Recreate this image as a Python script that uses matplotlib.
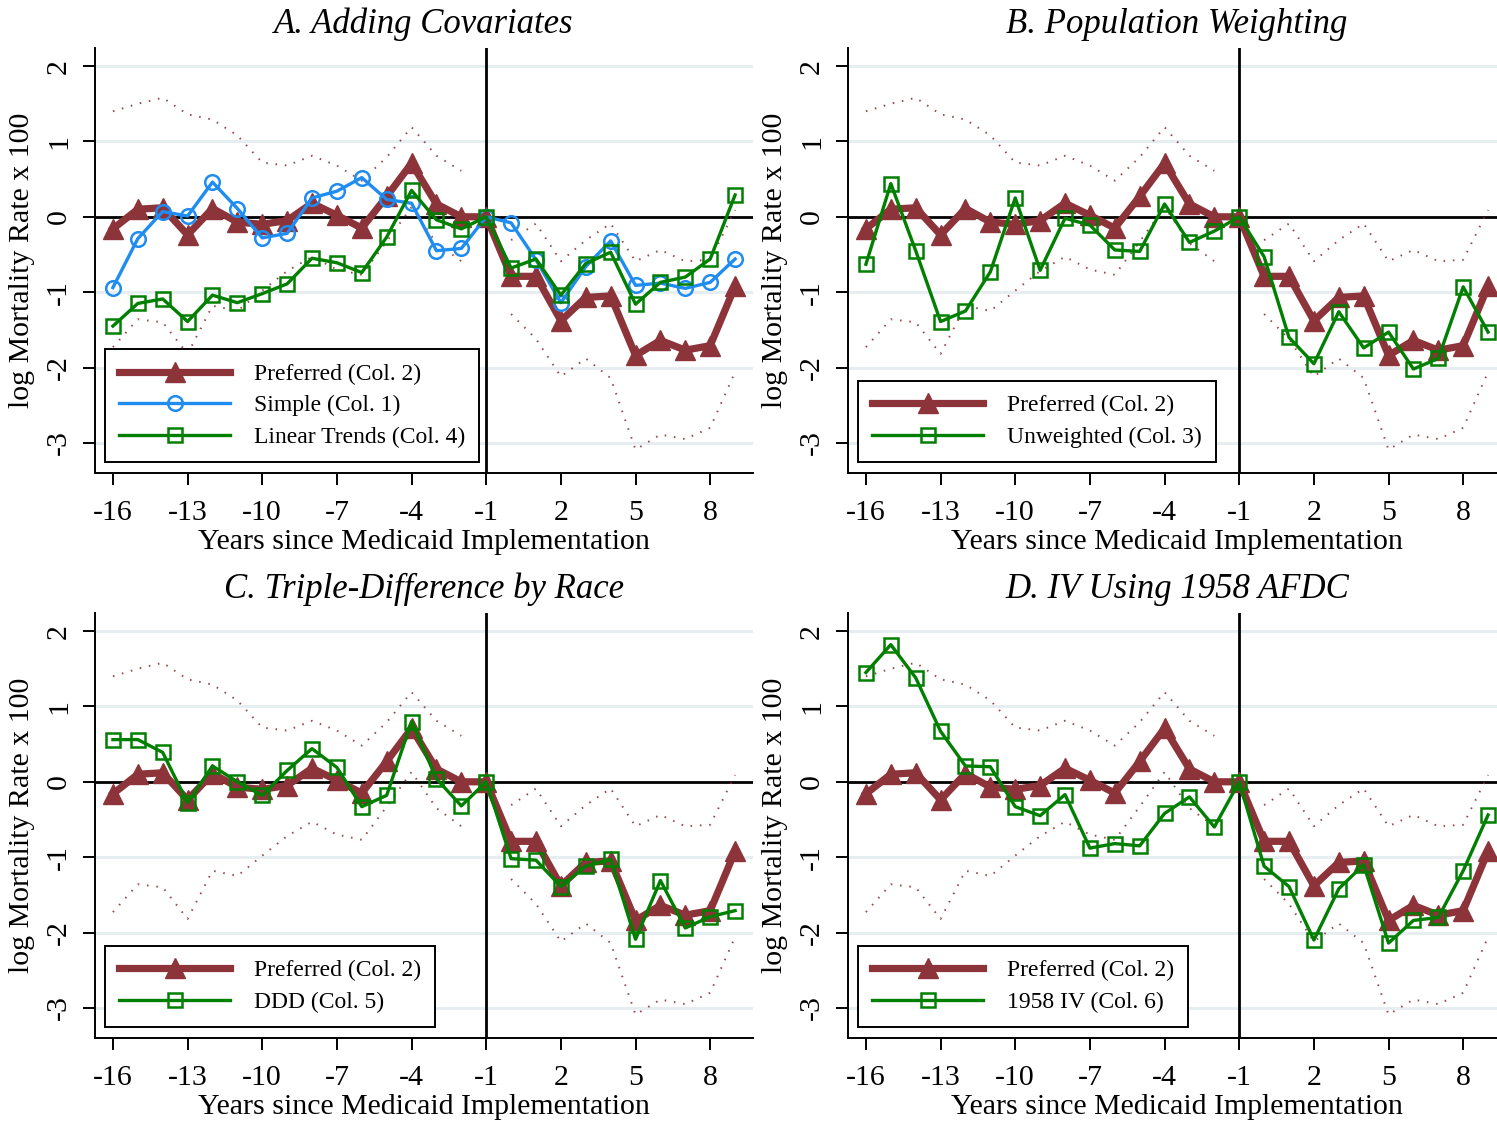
import matplotlib
matplotlib.use("Agg")
import matplotlib.pyplot as plt
import numpy as np

plt.rcParams['font.family'] = ['Liberation Serif', 'DejaVu Serif']

# ---- data ----
years_pre = [-16, -15, -14, -13, -12, -11, -10, -9, -8, -7, -6, -5, -4, -3, -2, -1]
years_post = [0, 1, 2, 3, 4, 5, 6, 7, 8, 9]
years = years_pre + years_post

preferred = [-0.16, 0.10, 0.12, -0.24, 0.11, -0.07, -0.10, -0.05, 0.18, 0.02, -0.15, 0.27, 0.71, 0.17, 0.00, 0.00,
             -0.79, -0.79, -1.38, -1.07, -1.05, -1.84, -1.64, -1.77, -1.71, -0.92]

ci_upper_pre = [1.40, 1.50, 1.58, 1.36, 1.29, 1.08, 0.72, 0.68, 0.81, 0.68, 0.48, 0.79, 1.19, 0.81, 0.61]
ci_lower_pre = [-1.73, -1.36, -1.40, -1.82, -1.18, -1.25, -0.98, -0.72, -0.53, -0.70, -0.77, -0.33, 0.13, -0.35, -0.59]
ci_upper_post = [-0.31, -0.09, -0.59, -0.31, -0.09, -0.59, -0.44, -0.59, -0.57, 0.09]
ci_lower_post = [-1.29, -1.62, -2.12, -1.88, -2.14, -3.09, -2.89, -2.95, -2.80, -2.06]

simple = [-0.94, -0.29, 0.07, 0.01, 0.46, 0.11, -0.28, -0.22, 0.25, 0.34, 0.52, 0.23, 0.18, -0.45, -0.42, 0.00,
          -0.08, -0.57, -1.14, -0.66, -0.32, -0.91, -0.88, -0.95, -0.87, -0.56]
linear_trends = [-1.45, -1.15, -1.09, -1.39, -1.04, -1.14, -1.02, -0.89, -0.55, -0.61, -0.74, -0.27, 0.35, -0.04, -0.16, 0.00,
                 -0.68, -0.56, -1.04, -0.62, -0.47, -1.16, -0.87, -0.80, -0.56, 0.29]
unweighted = [-0.63, 0.44, -0.45, -1.39, -1.25, -0.73, 0.25, -0.71, -0.02, -0.11, -0.44, -0.46, 0.17, -0.34, -0.19, 0.00,
              -0.53, -1.60, -1.95, -1.26, -1.74, -1.53, -2.02, -1.88, -0.93, -1.53]
ddd = [0.56, 0.56, 0.39, -0.28, 0.21, 0.00, -0.18, 0.15, 0.44, 0.19, -0.33, -0.18, 0.80, 0.04, -0.32, 0.00,
       -1.02, -1.04, -1.39, -1.12, -1.03, -2.09, -1.31, -1.94, -1.79, -1.71]
iv1958 = [1.45, 1.82, 1.38, 0.67, 0.21, 0.20, -0.33, -0.45, -0.17, -0.88, -0.82, -0.85, -0.42, -0.20, -0.60, 0.00,
          -1.12, -1.39, -2.10, -1.42, -1.10, -2.14, -1.84, -1.80, -1.18, -0.44]

x_ticks = [-16, -13, -10, -7, -4, -1, 2, 5, 8]
y_ticks = [-3, -2, -1, 0, 1, 2]

titles = ["A. Adding Covariates", "B. Population Weighting",
          "C. Triple-Difference by Race", "D. IV Using 1958 AFDC"]

MAROON = '#8c3439'
BLUE = '#1e8cf0'
GREEN = '#007f00'
GRID = '#e6eef1'

W, H = 1497, 1122
fig = plt.figure(figsize=(W / 100, H / 100), dpi=100)

def px_axes(left, top, right, bottom):
    return fig.add_axes([left / W, 1 - bottom / H, (right - left) / W, (bottom - top) / H])

panel_boxes = [(95, 48, 753, 473), (848, 48, 1506, 473),
               (95, 613, 753, 1038), (848, 613, 1506, 1038)]

others = [
    [("Simple (Col. 1)", simple, BLUE, 'o'), ("Linear Trends (Col. 4)", linear_trends, GREEN, 's')],
    [("Unweighted (Col. 3)", unweighted, GREEN, 's')],
    [("DDD (Col. 5)", ddd, GREEN, 's')],
    [("1958 IV (Col. 6)", iv1958, GREEN, 's')],
]

for i, box in enumerate(panel_boxes):
    ax = px_axes(*box)
    ax.set_xlim(-16.72, 9.72)
    ax.set_ylim(-3.40, 2.24)
    for yv in [-3, -2, -1, 1, 2]:
        ax.axhline(yv, color=GRID, lw=2.2, zorder=0)
    ax.axhline(0, color='black', lw=2.0, zorder=1)
    ax.axvline(-1, color='black', lw=2.0, zorder=1)

    # CIs
    ci_style = dict(color=MAROON, lw=1.4, ls=(0, (0.8, 4)), zorder=2, alpha=0.9)
    ax.plot(years_pre[:-1], ci_upper_pre, **ci_style)
    ax.plot(years_pre[:-1], ci_lower_pre, **ci_style)
    ax.plot(years_post, ci_upper_post, **ci_style)
    ax.plot(years_post, ci_lower_post, **ci_style)

    handles = []
    h, = ax.plot(years, preferred, color=MAROON, lw=5.2, marker='^', ms=14,
                 markeredgecolor=MAROON, label="Preferred (Col. 2)", zorder=3)
    handles.append(h)
    for label, vals, col, mk in others[i]:
        h, = ax.plot(years, vals, color=col, lw=2.4, marker=mk, ms=10.5,
                     markerfacecolor='none', markeredgecolor=col, markeredgewidth=1.8,
                     label=label, zorder=4)
        handles.append(h)

    ax.set_xticks(x_ticks)
    ax.set_xticklabels([str(t) for t in x_ticks])
    ax.set_yticks(y_ticks)
    ax.set_yticklabels([str(t) for t in y_ticks], rotation=90, va='center')
    ax.tick_params(axis='both', direction='out', length=8.5, width=1.4, labelsize=21.5,
                   colors='black')
    ax.tick_params(axis='x', pad=11)
    ax.tick_params(axis='y', pad=8)
    for s in ['top', 'right']:
        ax.spines[s].set_visible(False)
    for s in ['left', 'bottom']:
        ax.spines[s].set_linewidth(1.4)
    ax.set_xlabel("Years since Medicaid Implementation", fontsize=21.5, labelpad=2)
    ax.set_ylabel("log Mortality Rate x 100", fontsize=21.5, labelpad=8)
    ax.set_title(titles[i], fontsize=25, style='italic', pad=11)

    leg = ax.legend(handles=handles, loc='lower left', bbox_to_anchor=(0.015, 0.026),
                    borderaxespad=0, fontsize=17, handlelength=4.7, handletextpad=1.0,
                    frameon=True, fancybox=False, edgecolor='black', borderpad=0.6,
                    labelspacing=0.42)
    leg.get_frame().set_linewidth(1.4)
    leg.get_frame().set_alpha(1)

fig.savefig("out.png", dpi=100)
